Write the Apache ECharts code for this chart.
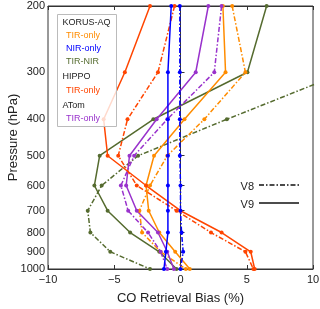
<!DOCTYPE html>
<html><head><meta charset="utf-8">
<script src="https://cdn.jsdelivr.net/npm/echarts@6/dist/echarts.min.js"></script>
<style>html,body{margin:0;padding:0;background:#fff}#c{width:320px;height:309px}</style>
</head><body><div id="c"></div>
<script>
var pressure = [200, 300, 400, 500, 600, 700, 800, 900, 1000];
var pressureTicks = [200, 300, 400, 500, 600, 700, 800, 900, 1000];
var biasTicks = [-10, -5, 0, 5, 10];

var korusTirV9 = [3.2, 3.4, 0.3, -2.0, -2.6, -2.4, -1.6, -0.4, 0.7];
var korusTirV8 = [3.9, 4.9, 1.8, -1.0, -2.3, -3.1, -2.9, -1.5, 0.4];
var korusNirV9 = [-0.7, -0.95, -0.95, -0.95, -0.95, -0.95, -0.95, -1.1, -1.25];
var korusNirV8 = [-0.05, -0.05, -0.05, -0.05, 0.0, 0.0, 0.08, 0.2, 0.0];
var korusTirNirV9 = [6.5, 5.05, -2.05, -6.1, -6.5, -5.5, -3.8, -1.6, -0.3];
var korusTirNirV8 = [14.5, 12.4, 3.5, -3.2, -5.95, -7.0, -6.8, -5.3, -2.3];
var hippoTirV9 = [-2.3, -4.2, -5.8, -5.5, -2.6, 0.0, 3.1, 5.3, 5.6];
var hippoTirV8 = [-0.45, -1.7, -4.0, -4.7, -3.3, -0.3, 2.3, 4.9, 5.5];
var atomTirV9 = [2.1, 1.15, -1.8, -3.85, -4.1, -3.3, -1.7, -1.0, -0.5];
var atomTirV8 = [3.1, 2.55, -1.0, -3.5, -4.5, -3.95, -2.45, -1.5, -1.0];

var C_ORANGE = '#FF8C00', C_BLUE = '#0000FF', C_OLIVE = '#556B2F', C_RED = '#FF4500', C_PURPLE = '#9932CC';
var DASHDOT = [5, 2, 1.5, 2];
var FONT = 'Liberation Sans';

function mk(name, vals, color, dashed) {
  return {
    name: name, type: 'line',
    data: vals.map(function (v, i) { return [v, pressure[i]]; }),
    symbol: 'circle', symbolSize: 4,
    itemStyle: { color: color },
    lineStyle: { color: color, width: 1.5, type: dashed ? DASHDOT : 'solid' },
    clip: true, animation: false
  };
}

var chart = echarts.init(document.getElementById('c'), null, { renderer: 'canvas' });
var fmtMinus = function (v) { return String(v).replace('-', '\u2212'); };

chart.setOption({
  animation: false,
  grid: { left: 48, right: 7, top: 6, bottom: 40, show: true, borderColor: '#333', borderWidth: 1, containLabel: false, outerBoundsMode: 'none' },
  xAxis: [{
    type: 'value', min: -10, max: 10, interval: 5, position: 'bottom',
    name: 'CO Retrieval Bias (%)', nameLocation: 'middle', nameGap: 23, nameMoveOverlap: false,
    nameTextStyle: { fontFamily: FONT, fontSize: 13, color: '#222' },
    axisLine: { show: true, lineStyle: { color: '#333' } },
    axisTick: { inside: true, length: 4, lineStyle: { color: '#333' } },
    axisLabel: { fontFamily: FONT, fontSize: 11, color: '#222', margin: 5, formatter: fmtMinus },
    splitLine: { show: false }
  }, {
    type: 'value', min: -10, max: 10, interval: 5, position: 'top',
    axisLine: { show: true, lineStyle: { color: '#333' } },
    axisTick: { inside: true, length: 4, lineStyle: { color: '#333' } },
    axisLabel: { show: false }, splitLine: { show: false }
  }],
  yAxis: [{
    type: 'log', logBase: 10, min: 200, max: 1000, inverse: true,
    name: 'Pressure (hPa)', nameLocation: 'middle', nameGap: 28, nameMoveOverlap: false,
    nameTextStyle: { fontFamily: FONT, fontSize: 13, color: '#222' },
    axisLine: { show: true, lineStyle: { color: '#333' } },
    axisTick: { inside: true, length: 4, customValues: pressureTicks, lineStyle: { color: '#333' } },
    axisLabel: { fontFamily: FONT, fontSize: 11, color: '#222', margin: 3, customValues: pressureTicks,
      formatter: function (v) { return String(Math.round(v)); } },
    splitLine: { show: false }, minorTick: { show: false }
  }],
  series: [
    mk('KORUS TIR-NIR V8', korusTirNirV8, C_OLIVE, true),
    mk('KORUS TIR-NIR V9', korusTirNirV9, C_OLIVE, false),
    mk('KORUS TIR-only V8', korusTirV8, C_ORANGE, true),
    mk('KORUS TIR-only V9', korusTirV9, C_ORANGE, false),
    mk('ATom TIR-only V8', atomTirV8, C_PURPLE, true),
    mk('ATom TIR-only V9', atomTirV9, C_PURPLE, false),
    mk('HIPPO TIR-only V8', hippoTirV8, C_RED, true),
    mk('HIPPO TIR-only V9', hippoTirV9, C_RED, false),
    mk('KORUS NIR-only V8', korusNirV8, C_BLUE, true),
    mk('KORUS NIR-only V9', korusNirV9, C_BLUE, false)
  ],
  graphic: [
    { type: 'rect', shape: { x: 57.5, y: 14.5, width: 59, height: 112 }, style: { fill: 'rgba(255,255,255,0.8)', stroke: '#bbb', lineWidth: 1 }, z: 100 },
    { type: 'text', x: 62.5, y: 23, style: { text: 'KORUS-AQ', fill: '#222', font: '9px ' + FONT, verticalAlign: 'middle' }, z: 101 },
    { type: 'text', x: 66, y: 35.5, style: { text: 'TIR-only', fill: C_ORANGE, font: '9px ' + FONT, verticalAlign: 'middle' }, z: 101 },
    { type: 'text', x: 66, y: 49, style: { text: 'NIR-only', fill: C_BLUE, font: '9px ' + FONT, verticalAlign: 'middle' }, z: 101 },
    { type: 'text', x: 66, y: 61.5, style: { text: 'TIR-NIR', fill: C_OLIVE, font: '9px ' + FONT, verticalAlign: 'middle' }, z: 101 },
    { type: 'text', x: 62.5, y: 76.5, style: { text: 'HIPPO', fill: '#222', font: '9px ' + FONT, verticalAlign: 'middle' }, z: 101 },
    { type: 'text', x: 66, y: 91, style: { text: 'TIR-only', fill: C_RED, font: '9px ' + FONT, verticalAlign: 'middle' }, z: 101 },
    { type: 'text', x: 62.5, y: 106, style: { text: 'ATom', fill: '#222', font: '9px ' + FONT, verticalAlign: 'middle' }, z: 101 },
    { type: 'text', x: 66, y: 119, style: { text: 'TIR-only', fill: C_PURPLE, font: '9px ' + FONT, verticalAlign: 'middle' }, z: 101 },
    { type: 'text', x: 254, y: 186.5, style: { text: 'V8', fill: '#222', font: '11px ' + FONT, align: 'right', verticalAlign: 'middle' }, z: 101 },
    { type: 'line', shape: { x1: 259, y1: 185, x2: 299, y2: 185 }, style: { stroke: '#111', lineWidth: 1.4, lineDash: DASHDOT }, z: 101 },
    { type: 'text', x: 254, y: 205, style: { text: 'V9', fill: '#222', font: '11px ' + FONT, align: 'right', verticalAlign: 'middle' }, z: 101 },
    { type: 'line', shape: { x1: 259, y1: 203, x2: 299, y2: 203 }, style: { stroke: '#111', lineWidth: 1.4 }, z: 101 }
  ]
});
</script></body></html>
